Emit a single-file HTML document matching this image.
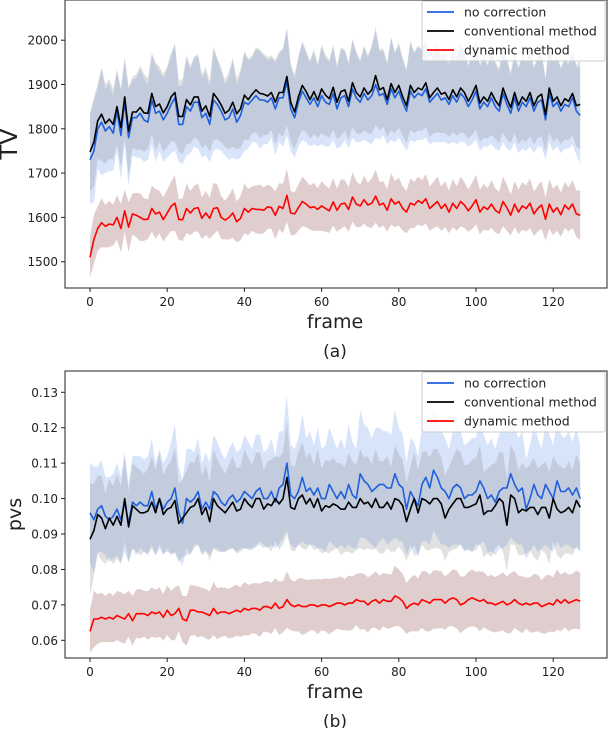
<!DOCTYPE html>
<html><head><meta charset="utf-8"><style>
body{margin:0;background:#fff;}
svg text{font-family:"DejaVu Sans","Liberation Sans",sans-serif;fill:#222;}
</style></head><body>
<svg id="c" width="609" height="728" viewBox="0 0 609 728"></svg>
<script>
const ticksX=[0,20,40,60,80,100,120];
const ticksTV=[1500,1600,1700,1800,1900,2000];
const ticksPVS=[0.06,0.07,0.08,0.09,0.10,0.11,0.12,0.13];
const tickLabelsPVS=["0.06","0.07","0.08","0.09","0.10","0.11","0.12","0.13"];
const seriesNames=["no correction","conventional method","dynamic method"];

const tvNo=[1730,1750,1800,1815,1795,1805,1790,1840,1785,1860,1780,1825,1825,1835,1820,1815,1865,1835,1840,1820,1835,1855,1870,1810,1810,1850,1840,1860,1860,1825,1835,1810,1865,1855,1840,1820,1825,1845,1815,1830,1860,1855,1865,1875,1865,1865,1860,1870,1845,1870,1870,1905,1845,1825,1860,1885,1870,1855,1870,1850,1875,1860,1855,1880,1845,1870,1875,1850,1890,1870,1860,1880,1865,1875,1900,1875,1880,1855,1890,1870,1885,1860,1840,1885,1870,1880,1875,1890,1860,1870,1880,1865,1870,1855,1875,1860,1880,1870,1850,1865,1885,1845,1860,1850,1870,1850,1840,1880,1855,1835,1870,1840,1860,1850,1870,1840,1860,1865,1820,1880,1850,1860,1840,1855,1850,1870,1840,1830];
const tvConv=[1748,1770,1818,1833,1812,1822,1810,1850,1803,1872,1795,1838,1838,1848,1836,1835,1880,1850,1856,1836,1850,1872,1882,1828,1828,1866,1854,1872,1872,1840,1852,1828,1880,1868,1854,1835,1842,1860,1834,1845,1876,1866,1878,1888,1880,1878,1874,1882,1860,1882,1882,1918,1860,1838,1872,1898,1884,1866,1884,1864,1890,1876,1868,1894,1860,1884,1888,1862,1904,1882,1872,1892,1878,1888,1920,1888,1893,1866,1902,1882,1898,1872,1852,1898,1882,1892,1888,1904,1870,1882,1892,1878,1882,1866,1888,1872,1892,1882,1862,1878,1898,1858,1872,1862,1882,1864,1852,1892,1868,1848,1882,1853,1872,1862,1882,1852,1872,1878,1832,1892,1862,1872,1852,1868,1862,1880,1852,1855];
const tvDyn=[1510,1550,1575,1588,1580,1585,1583,1600,1575,1615,1578,1608,1605,1600,1595,1596,1620,1608,1612,1595,1610,1625,1632,1595,1595,1620,1610,1620,1622,1598,1610,1598,1620,1622,1600,1594,1600,1610,1590,1598,1620,1612,1620,1618,1618,1616,1624,1622,1605,1625,1620,1650,1610,1608,1622,1636,1630,1622,1624,1618,1626,1620,1615,1635,1616,1630,1632,1618,1646,1630,1626,1640,1628,1632,1648,1628,1632,1616,1642,1630,1636,1620,1612,1632,1628,1638,1632,1642,1620,1628,1636,1620,1630,1612,1632,1620,1636,1628,1615,1626,1640,1612,1624,1618,1630,1616,1610,1636,1622,1605,1630,1612,1626,1620,1632,1608,1620,1628,1596,1630,1612,1622,1606,1628,1618,1630,1608,1605];
const tvNoSd=[100,115,90,120,95,100,85,90,100,95,110,85,90,100,95,85,100,110,90,95,100,110,120,85,90,110,95,100,105,90,95,85,115,100,90,80,95,110,85,95,110,100,95,105,110,100,95,90,105,100,110,120,95,90,100,110,100,95,105,90,110,100,95,105,90,110,100,95,110,100,90,105,95,110,120,100,95,90,115,100,105,95,90,110,100,105,100,110,95,100,110,95,100,90,105,95,110,100,90,100,110,95,100,90,105,95,90,110,100,85,100,95,105,100,110,95,100,105,90,110,100,100,95,100,95,105,100,110];
const tvConvSd=[90,100,85,105,90,90,80,85,90,90,100,80,85,95,88,80,92,100,85,88,92,100,110,80,85,100,88,92,96,84,88,80,105,92,84,76,88,100,80,88,100,92,88,96,100,92,88,84,96,92,100,110,88,84,92,100,92,88,96,84,100,92,88,96,84,100,92,88,100,92,84,96,88,100,110,92,88,84,105,92,96,88,84,100,92,96,92,100,88,92,100,88,92,84,96,88,100,92,84,92,100,88,92,84,96,88,84,100,92,80,92,88,96,92,100,88,92,96,84,100,92,92,88,92,88,96,92,100];
const tvDynSd=[45,55,50,55,48,52,46,50,55,48,56,46,50,54,48,45,52,56,48,50,52,56,62,46,48,56,50,52,54,47,50,46,58,52,48,44,50,56,46,50,56,52,50,54,56,52,50,48,54,52,56,60,50,48,52,56,52,50,54,48,56,52,50,54,48,56,52,50,56,52,48,54,50,56,60,52,50,48,58,52,54,50,48,56,52,54,52,56,50,52,56,50,52,48,54,50,56,52,48,52,56,50,52,48,54,50,48,56,52,46,52,50,54,52,56,50,52,54,48,56,52,52,50,52,50,54,52,56];

const pvNo=[.096,.094,.097,.098,.095,.094,.095,.097,.094,.099,.093,.099,.098,.099,.098,.098,.102,.097,.1,.097,.099,.1,.103,.096,.093,.1,.099,.1,.102,.097,.099,.097,.102,.101,.099,.098,.1,.101,.099,.1,.102,.101,.1,.102,.103,.1,.1,.102,.099,.103,.104,.11,.101,.1,.102,.106,.102,.103,.101,.103,.1,.1,.104,.102,.1,.102,.1,.104,.101,.1,.107,.105,.104,.102,.103,.104,.104,.103,.103,.107,.104,.103,.097,.102,.1,.098,.104,.106,.103,.108,.106,.103,.102,.1,.103,.104,.103,.1,.101,.101,.102,.105,.103,.1,.101,.099,.102,.103,.103,.107,.104,.102,.103,.097,.1,.104,.101,.1,.104,.102,.1,.105,.102,.102,.103,.101,.103,.1];
const pvConv=[.0885,.091,.0955,.0945,.0915,.0945,.0925,.095,.0925,.1,.092,.098,.097,.096,.096,.0965,.099,.096,.1,.0955,.097,.0975,.0995,.093,.0945,.096,.0975,.098,.1,.0955,.0975,.0935,.1,.098,.097,.096,.0975,.099,.0965,.097,.1,.0985,.0975,.1,.1,.097,.0985,.098,.1,.0985,.1,.106,.0975,.097,.1,.101,.0985,.1,.0975,.1,.0965,.098,.0975,.0985,.098,.097,.097,.099,.0975,.0975,.1,.0985,.099,.0975,.1,.0975,.0975,.099,.097,.1,.0995,.098,.0935,.097,.1,.096,.1,.0995,.0985,.1,.1,.0985,.0945,.097,.0985,.1,.1,.0975,.0975,.098,.0985,.101,.0955,.0965,.0965,.098,.1,.099,.0925,.101,.1,.096,.097,.0965,.0975,.0975,.0955,.0975,.0975,.0945,.1,.097,.096,.0965,.0975,.096,.0995,.0975];
const pvDyn=[.0625,.066,.066,.0665,.066,.0665,.066,.067,.0665,.066,.0675,.0655,.0675,.0675,.0675,.067,.068,.0675,.068,.0665,.0685,.067,.0675,.069,.066,.0655,.0685,.0685,.068,.068,.0675,.067,.069,.0675,.068,.068,.0675,.068,.0685,.068,.069,.0685,.069,.069,.0685,.0695,.0695,.069,.0705,.069,.0695,.0715,.07,.0695,.07,.0695,.0695,.07,.07,.0695,.07,.07,.0695,.07,.0705,.0705,.07,.0705,.0705,.0715,.071,.071,.07,.071,.0715,.0705,.0715,.071,.071,.0725,.072,.071,.069,.07,.0705,.07,.0715,.071,.0705,.0715,.0715,.0715,.0705,.0715,.072,.0715,.07,.0705,.0715,.072,.0715,.071,.0715,.0705,.0705,.07,.0705,.071,.07,.0705,.0715,.0705,.07,.0705,.07,.0705,.0705,.0695,.07,.0705,.07,.0715,.0705,.0715,.0705,.071,.0715,.071];
const pvNoSd=[.014,.015,.012,.013,.011,.012,.012,.013,.012,.014,.011,.013,.014,.013,.013,.014,.015,.013,.014,.013,.013,.016,.018,.013,.012,.014,.015,.013,.015,.013,.014,.013,.016,.015,.014,.013,.014,.015,.014,.014,.016,.015,.014,.016,.015,.013,.014,.015,.013,.016,.015,.019,.014,.014,.015,.018,.015,.016,.014,.017,.014,.015,.016,.015,.014,.015,.014,.017,.015,.014,.018,.016,.016,.015,.017,.016,.015,.016,.015,.018,.016,.015,.013,.015,.016,.014,.016,.018,.016,.017,.017,.016,.015,.014,.016,.017,.016,.015,.015,.016,.015,.018,.015,.015,.016,.015,.016,.017,.016,.018,.016,.015,.016,.014,.015,.017,.016,.014,.017,.016,.015,.017,.016,.015,.016,.015,.017,.015];
const pvConvSd=[.016,.013,.011,.012,.01,.011,.011,.012,.011,.012,.01,.012,.012,.012,.011,.012,.013,.012,.013,.011,.012,.013,.015,.011,.011,.012,.013,.012,.013,.011,.012,.011,.014,.013,.012,.011,.012,.013,.012,.012,.014,.013,.012,.013,.013,.011,.012,.013,.012,.013,.013,.016,.012,.012,.013,.015,.013,.013,.012,.014,.012,.013,.013,.013,.012,.013,.012,.014,.013,.012,.014,.013,.013,.012,.014,.013,.013,.013,.012,.015,.013,.013,.011,.012,.013,.012,.013,.014,.013,.014,.014,.013,.012,.012,.013,.014,.013,.012,.012,.013,.013,.014,.012,.012,.013,.012,.013,.014,.013,.014,.013,.012,.013,.012,.012,.014,.013,.012,.013,.013,.012,.013,.013,.012,.013,.012,.013,.012];
const pvDynSd=[.006,.008,.007,.007,.0065,.007,.0065,.007,.007,.007,.0065,.007,.0068,.007,.0065,.0068,.007,.0068,.007,.0065,.007,.007,.0075,.0065,.0065,.007,.0072,.007,.0072,.0068,.007,.0068,.0075,.0072,.007,.0068,.007,.0072,.0072,.007,.0075,.0072,.007,.0072,.0075,.007,.0072,.0072,.007,.0075,.0072,.008,.0072,.007,.0075,.008,.0075,.0072,.0072,.0078,.0072,.0075,.0078,.0075,.0072,.0075,.0072,.0078,.0075,.0072,.008,.0078,.0078,.0075,.008,.0078,.0075,.0078,.0075,.0085,.008,.0078,.0072,.0075,.008,.0075,.008,.0085,.008,.0082,.0082,.008,.0075,.0075,.008,.0082,.008,.0075,.0078,.008,.0078,.0085,.0078,.0075,.008,.0078,.008,.0082,.008,.0085,.008,.0078,.008,.0072,.0078,.0082,.008,.0075,.0082,.008,.0078,.0085,.008,.0078,.008,.0078,.0082,.008];

const NS='http://www.w3.org/2000/svg';
const svg=document.getElementById('c');
function mk(tag,attrs,parent){const e=document.createElementNS(NS,tag);for(const k in attrs)e.setAttribute(k,attrs[k]);(parent||svg).appendChild(e);return e;}
const X0=90,XPF=3.86,AL=65,AR=607;
function sx(i){return X0+i*XPF;}

function panel(cfg){
  const g=mk('g',{});
  
  
  const sy=v=>cfg.y0px+(v-cfg.y0)*cfg.ppu;
  const clip='clip-'+cfg.name;
  const cp=mk('clipPath',{id:clip},g);mk('rect',{x:AL,y:cfg.top,width:AR-AL,height:cfg.bot-cfg.top},cp);
  const plot=mk('g',{'clip-path':'url(#'+clip+')'},g);
  const bandCols=['rgba(100,149,237,0.25)','rgba(120,120,120,0.22)','rgba(140,70,70,0.27)'];
  const lineCols=['#1f5fdc','#000000','#ff0000'];
  const bandNames=['band-no-correction','band-conventional','band-dynamic'];
  const lineNames=['line-no-correction','line-conventional','line-dynamic'];
  cfg.series.forEach((s,k)=>{
    let up=[],lo=[];
    s.m.forEach((v,i)=>{up.push(sx(i).toFixed(1)+','+sy(v+s.sd[i]).toFixed(1));lo.push(sx(i).toFixed(1)+','+sy(v-s.sd[i]).toFixed(1));});
    const b=mk('polygon',{points:up.concat(lo.reverse()).join(' '),fill:bandCols[k],stroke:'none'},plot);
    
    
  });
  cfg.series.forEach((s,k)=>{
    const p=mk('polyline',{points:s.m.map((v,i)=>sx(i).toFixed(1)+','+sy(v).toFixed(1)).join(' '),fill:'none',stroke:lineCols[k],'stroke-width':1.6,'stroke-linejoin':'round'},plot);
    
    
  });
  const fr=mk('rect',{x:AL,y:cfg.top,width:AR-AL,height:cfg.bot-cfg.top,fill:'none',stroke:'#222','stroke-width':1},g);
  
  
  ticksX.forEach(t=>{
    mk('line',{x1:sx(t),x2:sx(t),y1:cfg.bot,y2:cfg.bot+4,stroke:'#222'},g);
    const tx=mk('text',{x:sx(t),y:cfg.bot+18,'text-anchor':'middle','font-size':12},g);tx.textContent=t;
    
    
  });
  cfg.ticks.forEach((t,i)=>{
    const y=sy(t);
    mk('line',{x1:AL-4,x2:AL,y1:y,y2:y,stroke:'#222'},g);
    const tx=mk('text',{x:AL-7,y:y+4.5,'text-anchor':'end','font-size':12},g);tx.textContent=cfg.tlab[i];
    
    
  });
  const xl=mk('text',{x:335,y:cfg.bot+40,'text-anchor':'middle','font-size':19},g);xl.textContent='frame';
  
  
  const yl=mk('text',{x:0,y:0,'text-anchor':'middle','font-size':cfg.ylfs,transform:'translate('+cfg.ylx+','+((cfg.top+cfg.bot)/2)+') rotate(-90)'},g);yl.textContent=cfg.ylabel;
  
  
  const cap=mk('text',{x:335,y:cfg.bot+69,'text-anchor':'middle','font-size':17},g);cap.textContent=cfg.caption;
  
  
  const lg=mk('g',{},g);
  
  
  mk('rect',{x:422,y:cfg.top+1,width:183,height:60,fill:'rgba(255,255,255,0.8)',stroke:'#ccc','stroke-width':1,rx:2},lg);
  seriesNames.forEach((n,k)=>{
    const y=cfg.top+12+k*19;
    mk('line',{x1:427,x2:454,y1:y,y2:y,stroke:lineCols[k],'stroke-width':1.8},lg);
    const t=mk('text',{x:464,y:y+4.5,'font-size':12.5},lg);t.textContent=n;
    
    
  });
}
panel({name:'tv-panel',top:0,bot:288,y0:1500,y0px:261.7,ppu:-0.443,ticks:ticksTV,tlab:ticksTV.map(String),ylabel:'TV',ylfs:24,ylx:17,caption:'(a)',
  series:[{m:tvNo,sd:tvNoSd},{m:tvConv,sd:tvConvSd},{m:tvDyn,sd:tvDynSd}]});
panel({name:'pvs-panel',top:371,bot:658,y0:0.06,y0px:640.3,ppu:-3543,ticks:ticksPVS,tlab:tickLabelsPVS,ylabel:'pvs',ylfs:19,ylx:21,caption:'(b)',
  series:[{m:pvNo,sd:pvNoSd},{m:pvConv,sd:pvConvSd},{m:pvDyn,sd:pvDynSd}]});
</script>
</body></html>
